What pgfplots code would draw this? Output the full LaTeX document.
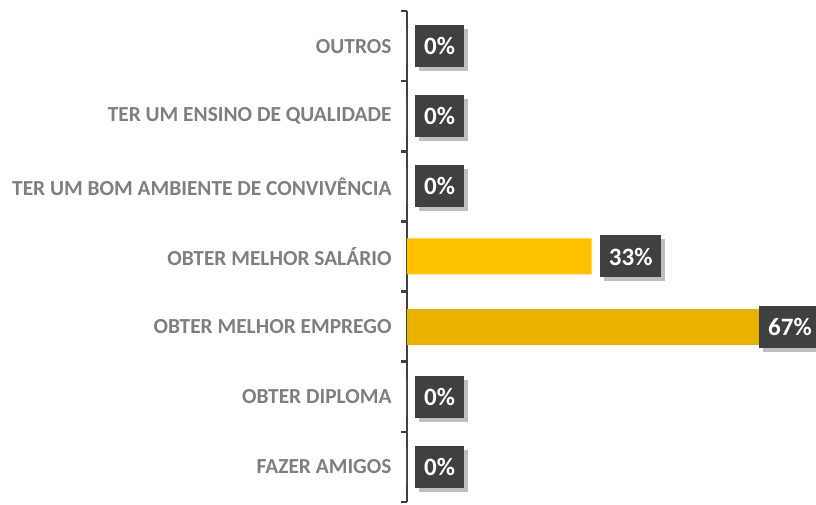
\documentclass[border=0pt]{standalone}
\usepackage{pgfplots}
\pgfplotsset{compat=1.18}
\usepackage{fontspec}
\setmainfont{Carlito}
\usetikzlibrary{shadows}
\definecolor{barA}{RGB}{255,192,0}
\definecolor{barB}{RGB}{233,177,0}
\definecolor{boxc}{RGB}{64,64,64}
\definecolor{labc}{RGB}{127,127,127}
\definecolor{axc}{RGB}{64,64,64}
\tikzset{vbox/.style={anchor=west, fill=boxc, text=white,
  font=\fontsize{25}{28}\selectfont\bfseries, inner xsep=9pt, inner ysep=0pt,
  minimum height=42pt,
  drop shadow={shadow xshift=4pt, shadow yshift=-4pt, opacity=0.25, fill=black}}}
\begin{document}
\begin{tikzpicture}
\useasboundingbox (-407pt,-3pt) rectangle (409pt,502pt);
\begin{axis}[
 at={(0,0)}, anchor=south west,
 xbar, bar width=36pt, bar shift=0pt,
 scale only axis, width=403pt, height=491pt,
 xmin=0, xmax=72, ymin=-0.5, ymax=6.5,
 axis x line=none, axis y line*=left,
 y axis line style={axc, line width=2.5pt},
 ytick={0,...,6},
 yticklabels={FAZER AMIGOS, OBTER DIPLOMA, OBTER MELHOR EMPREGO, OBTER MELHOR SALÁRIO, TER UM BOM AMBIENTE DE CONVIVÊNCIA, TER UM ENSINO DE QUALIDADE, OUTROS},
 major tick length=0pt,
 minor ytick={-0.5,0.5,...,6.5},
 minor tick length=6pt, tick align=outside,
 minor tick style={axc, line width=2.5pt},
 yticklabel style={font=\fontsize{21.4}{24}\selectfont\bfseries, text=labc, xshift=-12pt},
 clip=false,
 point meta=x,
 /pgf/number format/assume math mode=true,
 nodes near coords={\pgfmathprintnumber{\pgfplotspointmeta}\%},
]
\addplot[fill=barA, draw=none, every node near coord/.style={vbox, xshift=8pt}]
 coordinates {(0,0) (0,1) (33,3) (0,4) (0,5) (0,6)};
\addplot[fill=barB, draw=none, every node near coord/.style={vbox, xshift=-23pt}]
 coordinates {(67,2)};
\end{axis}
\end{tikzpicture}
\end{document}
